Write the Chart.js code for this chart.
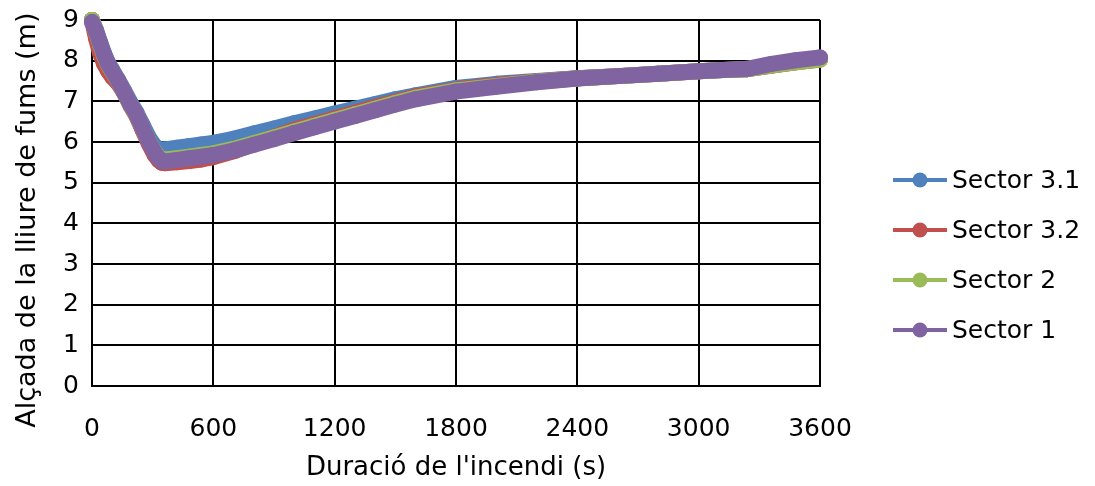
<!DOCTYPE html>
<html>
<head>
<meta charset="utf-8">
<script src="https://cdn.jsdelivr.net/npm/chart.js@4.4.1/dist/chart.umd.min.js"></script>
<style>
  body { margin: 0; background: #fff; }
  #wrap { position: relative; width: 1095px; height: 486px; }
</style>
</head>
<body>
<div id="wrap"><canvas id="chart"></canvas></div>
<script>
// time in seconds (shared by every series)
const timeS = [0, 20, 40, 60, 80, 100, 130, 160, 190, 220, 250, 280, 310, 330, 345, 360,
  420, 480, 540, 600, 700, 800, 900, 1000, 1100, 1200, 1300, 1400, 1500, 1600,
  1800, 2000, 2200, 2400, 2600, 2800, 3000, 3120, 3240, 3360, 3480, 3600];

// smoke-free height (m) per sector
const sector31 = [9.0, 8.75, 8.45, 8.17, 7.94, 7.77, 7.52, 7.25, 6.97, 6.72, 6.42, 6.12, 5.90, 5.82, 5.80, 5.82,
  5.86, 5.90, 5.94, 5.98, 6.08, 6.21, 6.33, 6.46, 6.58, 6.70, 6.82, 6.93, 7.05, 7.15,
  7.33, 7.43, 7.50, 7.57, 7.62, 7.68, 7.74, 7.77, 7.79, 7.88, 7.97, 8.04];
const sector32 = [9.0, 8.55, 8.18, 7.92, 7.74, 7.60, 7.44, 7.20, 6.90, 6.64, 6.30, 5.97, 5.68, 5.55, 5.49, 5.48,
  5.50, 5.53, 5.57, 5.63, 5.77, 5.95, 6.12, 6.30, 6.44, 6.58, 6.72, 6.86, 6.99, 7.12,
  7.29, 7.40, 7.49, 7.57, 7.62, 7.68, 7.74, 7.77, 7.79, 7.88, 7.96, 8.03];
const sector2 = [9.0, 8.70, 8.40, 8.12, 7.90, 7.73, 7.49, 7.21, 6.91, 6.67, 6.35, 6.03, 5.76, 5.63, 5.58, 5.57,
  5.60, 5.64, 5.68, 5.72, 5.83, 5.97, 6.11, 6.26, 6.40, 6.54, 6.68, 6.82, 6.96, 7.09,
  7.27, 7.38, 7.48, 7.56, 7.62, 7.68, 7.74, 7.77, 7.79, 7.88, 7.96, 8.03];
const sector1 = [8.95, 8.72, 8.43, 8.15, 7.92, 7.75, 7.50, 7.22, 6.92, 6.68, 6.35, 6.02, 5.74, 5.60, 5.53, 5.52,
  5.56, 5.60, 5.64, 5.68, 5.79, 5.93, 6.07, 6.22, 6.36, 6.50, 6.64, 6.78, 6.92, 7.05,
  7.24, 7.36, 7.47, 7.56, 7.62, 7.68, 7.74, 7.77, 7.80, 7.92, 8.01, 8.08];

const seriesNames = ["Sector 3.1", "Sector 3.2", "Sector 2", "Sector 1"];
const seriesColors = ["#4f81bd", "#c0504d", "#9bbb59", "#8064a2"];
const seriesValues = [sector31, sector32, sector2, sector1];

const xTicks = [0, 600, 1200, 1800, 2400, 3000, 3600];
const yTicks = [0, 1, 2, 3, 4, 5, 6, 7, 8, 9];

const FONT = "'DejaVu Sans', sans-serif";

// legend on the right: a short line with a dot, like the spreadsheet one
const sideLegend = {
  id: "sideLegend",
  afterDraw(chart) {
    const ctx = chart.ctx;
    const area = chart.chartArea;
    const x0 = area.right + 73;
    ctx.save();
    chart.data.datasets.forEach((ds, i) => {
      const y = area.top + 160 + i * 50;
      ctx.strokeStyle = ds.borderColor;
      ctx.lineWidth = 4;
      ctx.beginPath();
      ctx.moveTo(x0, y);
      ctx.lineTo(x0 + 54, y);
      ctx.stroke();
      ctx.fillStyle = ds.borderColor;
      ctx.beginPath();
      ctx.arc(x0 + 27, y, 7.5, 0, Math.PI * 2);
      ctx.fill();
      ctx.fillStyle = "#000";
      ctx.font = "25px " + FONT;
      ctx.textBaseline = "middle";
      ctx.fillText(ds.label, x0 + 59, y + 1);
    });
    ctx.restore();
  }
};

const datasets = seriesNames.map((name, i) => ({
  label: name,
  data: timeS.map((t, k) => ({ x: t, y: seriesValues[i][k] })),
  borderColor: seriesColors[i],
  backgroundColor: seriesColors[i],
  borderWidth: 16,
  borderCapStyle: "round",
  borderJoinStyle: "round",
  pointRadius: 8,
  pointBorderWidth: 0,
  pointHoverRadius: 8,
  tension: 0,
  clip: false,
  order: 3 - i
}));

new Chart(document.getElementById("chart"), {
  type: "line",
  data: { datasets: datasets },
  options: {
    responsive: true,
    maintainAspectRatio: false,
    animation: false,
    layout: { padding: { left: 0, right: 275, top: 20, bottom: 0 } },
    plugins: {
      legend: { display: false },
      tooltip: { enabled: false }
    },
    scales: {
      x: {
        type: "linear",
        min: 0,
        max: 3600,
        afterBuildTicks: (axis) => { axis.ticks = xTicks.map(v => ({ value: v })); },
        afterFit: (axis) => { axis.height = 100; },
        grid: { color: "#000", lineWidth: 2, drawTicks: false },
        border: { color: "#000", width: 2 },
        ticks: { color: "#000", padding: 28, font: { family: FONT, size: 25 }, callback: (v) => String(v) },
        title: {
          display: true,
          text: "Duració de l'incendi (s)",
          color: "#000",
          font: { family: FONT, size: 26 },
          padding: { top: 0, bottom: 2 }
        }
      },
      y: {
        min: 0,
        max: 9,
        afterBuildTicks: (axis) => { axis.ticks = yTicks.map(v => ({ value: v })); },
        afterFit: (axis) => { axis.width = 92; axis.paddingTop = 0; axis.paddingBottom = 0; },
        grid: { color: "#000", lineWidth: 2, drawTicks: false },
        border: { color: "#000", width: 2 },
        ticks: { color: "#000", padding: 13, font: { family: FONT, size: 25 }, callback: (v) => String(v) },
        title: {
          display: true,
          text: "Alçada de la lliure de fums (m)\u00a0\u00a0\u00a0\u00a0",
          color: "#000",
          font: { family: FONT, size: 27 },
          padding: { top: 12, bottom: 0 }
        }
      }
    }
  },
  plugins: [sideLegend]
});
</script>
</body>
</html>
